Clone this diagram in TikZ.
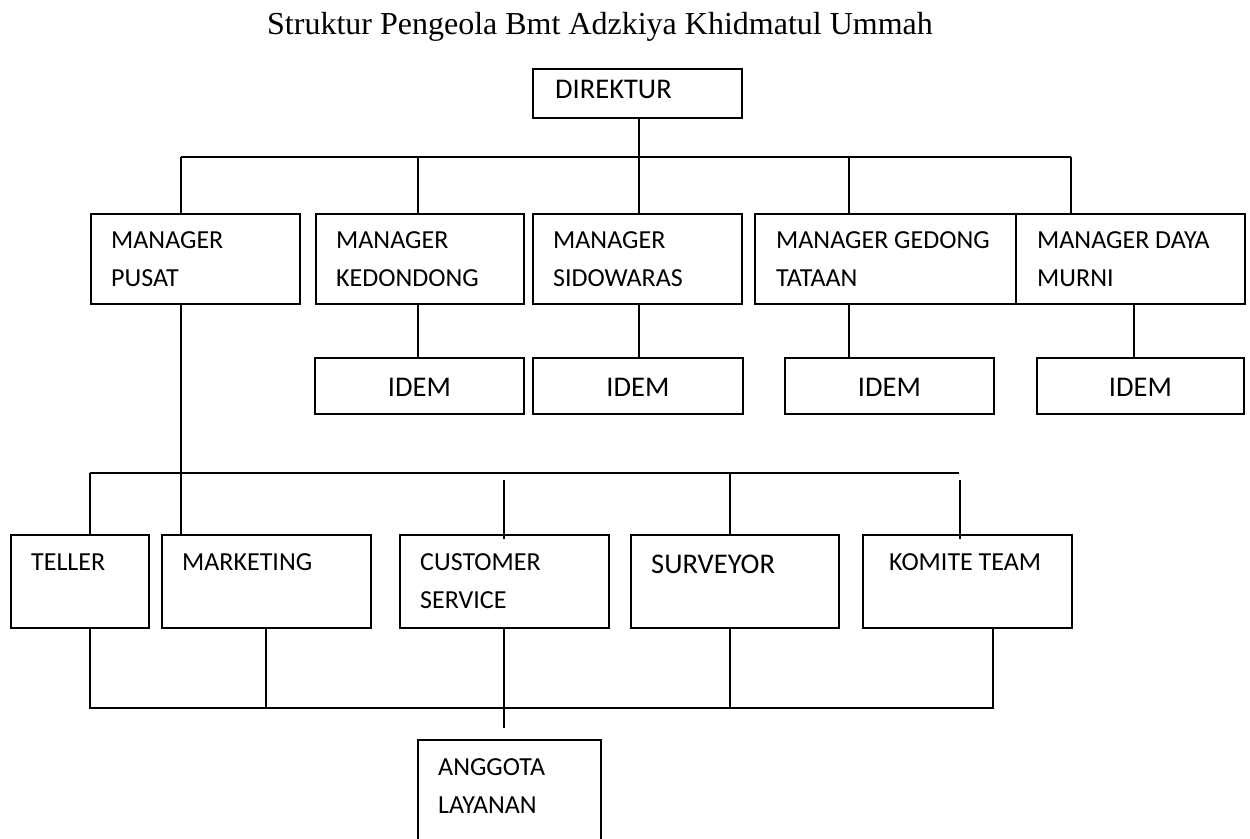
\documentclass[tikz,border=0pt]{standalone}
\usepackage{fontspec}
\setmainfont{Carlito}
\newfontfamily\titlefont{Liberation Serif}
\begin{document}
\begin{tikzpicture}[x=1pt,y=-1pt,
  box/.style={draw, line width=1.8pt, inner sep=0pt, anchor=north west},
  txt/.style={anchor=base west, inner sep=0pt, font=\fontsize{26}{30}\selectfont},
  bigtxt/.style={anchor=base west, inner sep=0pt, font=\fontsize{28.5}{32}\selectfont},
  link/.style={line width=1.8pt}]
\useasboundingbox (0,0) rectangle (1250,838);
\clip (0,0) rectangle (1250,838);

% title
\node[anchor=base, inner sep=0pt, font=\titlefont\fontsize{32}{36}\selectfont] (title) at (600,34) {Struktur Pengeola Bmt Adzkiya Khidmatul Ummah};

% boxes
\node[box, minimum width=209pt, minimum height=49pt] (dir) at (532,68) {};
\node[box, minimum width=209pt, minimum height=90pt] (pusat) at (90,213) {};
\node[box, minimum width=208pt, minimum height=90pt] (kedo) at (315,213) {};
\node[box, minimum width=209pt, minimum height=90pt] (sido) at (532,213) {};
\node[box, minimum width=261pt, minimum height=90pt] (gedo) at (754,213) {};
\node[box, minimum width=229pt, minimum height=90pt] (daya) at (1015,213) {};

\node[box, minimum width=209pt, minimum height=56pt] (idem1) at (314,357) {};
\node[box, minimum width=210pt, minimum height=56pt] (idem2) at (532,357) {};
\node[box, minimum width=209pt, minimum height=56pt] (idem3) at (784,357) {};
\node[box, minimum width=207pt, minimum height=56pt] (idem4) at (1036,357) {};

\node[box, minimum width=138pt, minimum height=93pt] (teller) at (10,534) {};
\node[box, minimum width=209pt, minimum height=93pt] (mark) at (161,534) {};
\node[box, minimum width=209pt, minimum height=93pt] (cs) at (399,534) {};
\node[box, minimum width=208pt, minimum height=93pt] (surv) at (630,534) {};
\node[box, minimum width=209pt, minimum height=93pt] (komi) at (862,534) {};
\node[box, minimum width=183pt, minimum height=130pt] (angg) at (417,739) {};

% texts
\node[bigtxt] (dir-t) at (555,98) {DIREKTUR};
\node[txt] (pusat-a) at (111,248) {MANAGER};
\node[txt] (pusat-b) at (111,286) {PUSAT};
\node[txt] (kedo-a) at (336,248) {MANAGER};
\node[txt] (kedo-b) at (336,286) {KEDONDONG};
\node[txt] (sido-a) at (553,248) {MANAGER};
\node[txt] (sido-b) at (553,286) {SIDOWARAS};
\node[txt] (gedo-a) at (776,248) {MANAGER GEDONG};
\node[txt] (gedo-b) at (776,286) {TATAAN};
\node[txt] (daya-a) at (1037,248) {MANAGER DAYA};
\node[txt] (daya-b) at (1037,286) {MURNI};

\node[bigtxt, anchor=base] (idem1-t) at (idem1.center |- 0,396) {IDEM};
\node[bigtxt, anchor=base] (idem2-t) at (idem2.center |- 0,396) {IDEM};
\node[bigtxt, anchor=base] (idem3-t) at (idem3.center |- 0,396) {IDEM};
\node[bigtxt, anchor=base] (idem4-t) at (idem4.center |- 0,396) {IDEM};

\node[txt] (teller-t) at (31,570) {TELLER};
\node[txt] (mark-t) at (182,570) {MARKETING};
\node[txt] (cs-a) at (420,570) {CUSTOMER};
\node[txt] (cs-b) at (420,608) {SERVICE};
\node[bigtxt] (surv-t) at (651,573) {SURVEYOR};
\node[txt] (komi-t) at (889,570) {KOMITE TEAM};
\node[txt] (angg-a) at (438,775) {ANGGOTA};
\node[txt] (angg-b) at (438,813) {LAYANAN};

% upper connectors
\coordinate (t1) at (181,157);
\coordinate (t2) at (418,157);
\coordinate (t3) at (639,157);
\coordinate (t4) at (849,157);
\coordinate (t5) at (1071,157);
\draw[link] (t1) -- (t5);
\draw[link] (t3 |- dir.south) -- (t3 |- sido.north);
\draw[link] (t1) -- (t1 |- pusat.north);
\draw[link] (t2) -- (t2 |- kedo.north);
\draw[link] (t4) -- (t4 |- gedo.north);
\draw[link] (t5) -- (t5 |- daya.north);

\coordinate (u4) at (1134,357);
\draw[link] (t2 |- kedo.south) -- (t2 |- idem1.north);
\draw[link] (t3 |- sido.south) -- (t3 |- idem2.north);
\draw[link] (t4 |- gedo.south) -- (t4 |- idem3.north);
\draw[link] (u4 |- daya.south) -- (u4);

% lower connectors
\coordinate (l1) at (90,473);
\coordinate (l2) at (959,473);
\coordinate (l3) at (730,473);
\coordinate (cs1) at (504,480);
\coordinate (cs2) at (504,539);
\coordinate (cs3) at (504,728);
\coordinate (k1) at (960,480);
\coordinate (k2) at (960,539);
\coordinate (m1) at (266,708);
\draw[link] (l1) -- (l2);
\draw[link] (t1 |- pusat.south) -- (t1 |- mark.north);
\draw[link] (l1) -- (l1 |- teller.north);
\draw[link] (cs1) -- (cs2);
\draw[link] (l3) -- (l3 |- surv.north);
\draw[link] (k1) -- (k2);

\coordinate (b1) at (90,708);
\coordinate (b2) at (993,708);
\draw[link] (b1 |- teller.south) -- (b1) -- (b2) -- (b2 |- komi.south);
\draw[link] (m1 |- mark.south) -- (m1);
\draw[link] (l3 |- surv.south) -- (l3 |- b1);
\draw[link] (cs1 |- cs.south) -- (cs3);
\end{tikzpicture}
\end{document}
